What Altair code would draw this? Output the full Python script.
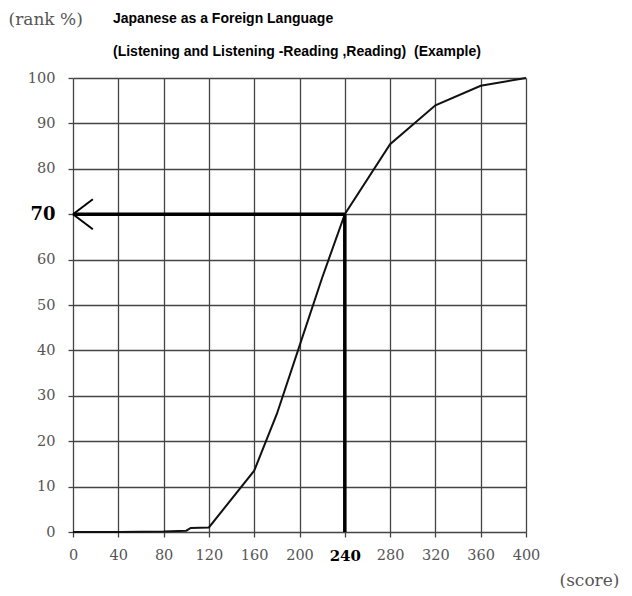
import altair as alt
import pandas as pd

# Curve
scores = [0, 40, 80, 100, 104, 120, 160, 180, 200, 220, 240, 280, 320, 360, 400]
ranks = [0, 0, 0.1, 0.3, 0.9, 1.0, 13.5, 26, 41, 56, 70, 85.4, 94, 98.3, 100]
x_ticks = [0, 40, 80, 120, 160, 200, 240, 280, 320, 360, 400]
y_ticks = [0, 10, 20, 30, 40, 50, 60, 70, 80, 90, 100]
target_score = [240]
target_rank = [70]
head_dx = [17.5, 17.5]
head_dy = [3.3, -3.3]
title_lines = [
    "Japanese as a Foreign Language",
    "(Listening and Listening -Reading ,Reading)\u00a0 (Example)",
]

curve = pd.DataFrame({"score": scores, "rank": ranks})
h_arrow = pd.DataFrame({"x": [0], "x2": target_score, "y": target_rank})
v_arrow = pd.DataFrame({"x": target_score, "y": [0], "y2": target_rank})
head = pd.DataFrame({
    "x": [0, 0],
    "y": target_rank * 2,
    "x2": head_dx,
    "y2": [target_rank[0] + d for d in head_dy],
})

SERIF = "DejaVu Serif"
TFONT = "Liberation Sans"
GRID = "#444444"

xscale = alt.Scale(domain=[0, 400], nice=False, zero=False)
yscale = alt.Scale(domain=[0, 100], nice=False, zero=False)

xaxis = alt.Axis(
    values=x_ticks, grid=True, gridColor=GRID, gridWidth=1.3,
    domain=False, ticks=True, tickSize=5, tickColor=GRID, tickWidth=1.3,
    labelFont=SERIF, labelPadding=11, labelFlush=False, labelOverlap=False,
    labelColor=alt.expr("datum.value == 240 ? '#000' : '#555'"),
    labelFontWeight=alt.expr("datum.value == 240 ? 'bold' : 'normal'"),
    labelFontSize=alt.expr("datum.value == 240 ? 15 : 14.5"),
    title="(score)", titleFont=SERIF, titleFontSize=17, titleFontWeight="normal",
    titleColor="#555", titleAngle=0, titleAlign="left", titleBaseline="middle",
    titleX=486, titleY=48,
)
yaxis = alt.Axis(
    values=y_ticks, grid=True, gridColor=GRID, gridWidth=1.3,
    domain=False, ticks=True, tickSize=5, tickColor=GRID, tickWidth=1.3,
    labelFont=SERIF, labelPadding=13, labelFlush=False, labelOverlap=False,
    labelColor=alt.expr("datum.value == 70 ? '#000' : '#555'"),
    labelFontWeight=alt.expr("datum.value == 70 ? 'bold' : 'normal'"),
    labelFontSize=alt.expr("datum.value == 70 ? 18 : 14.5"),
    title="(rank %)", titleFont=SERIF, titleFontSize=17, titleFontWeight="normal",
    titleColor="#555", titleAngle=0, titleAlign="left", titleBaseline="middle",
    titleX=-65, titleY=-59,
)

line = alt.Chart(curve).mark_line(color="#111", strokeWidth=2).encode(
    x=alt.X("score:Q", scale=xscale, axis=xaxis),
    y=alt.Y("rank:Q", scale=yscale, axis=yaxis),
)
hline = alt.Chart(h_arrow).mark_rule(color="#000", strokeWidth=3.5).encode(
    x=alt.X("x:Q", scale=xscale), x2="x2:Q", y=alt.Y("y:Q", scale=yscale)
)
vline = alt.Chart(v_arrow).mark_rule(color="#000", strokeWidth=3.5).encode(
    x=alt.X("x:Q", scale=xscale), y=alt.Y("y:Q", scale=yscale), y2="y2:Q"
)
arrowhead = alt.Chart(head).mark_rule(color="#000", strokeWidth=2).encode(
    x=alt.X("x:Q", scale=xscale), x2="x2:Q",
    y=alt.Y("y:Q", scale=yscale), y2="y2:Q",
)

title1 = alt.Chart(pd.DataFrame({"t": [title_lines[0]]})).mark_text(
    font=TFONT, fontSize=14, fontWeight="bold", color="#000",
    align="left", baseline="middle",
).encode(x=alt.value(40), y=alt.value(-59.5), text="t:N")
title2 = alt.Chart(pd.DataFrame({"t": [title_lines[1]]})).mark_text(
    font=TFONT, fontSize=14, fontWeight="bold", color="#000",
    align="left", baseline="middle",
).encode(x=alt.value(40), y=alt.value(-26.5), text="t:N")

chart = alt.layer(line, hline, vline, arrowhead, title1, title2).properties(
    width=453, height=454,
    autosize=alt.AutoSizeParams(type="none"),
    padding={"left": 65, "top": 70, "right": 98, "bottom": 56},
).configure_view(stroke="#333", strokeWidth=1.3).configure(background="white")

chart.save("out.html", embed_options={"renderer": "svg", "actions": False})
